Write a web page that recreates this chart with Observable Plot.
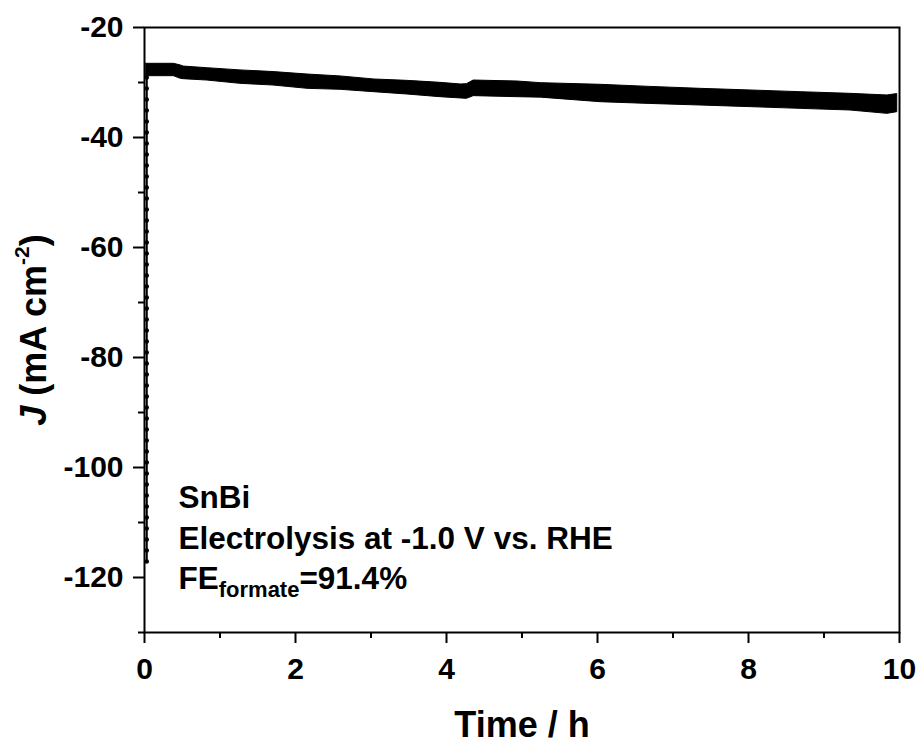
<!DOCTYPE html>
<html><head><meta charset="utf-8">
<script src="https://cdn.jsdelivr.net/npm/d3@7"></script>
<script src="https://cdn.jsdelivr.net/npm/@observablehq/plot@0.6"></script>
<style>body{margin:0;background:#fff}</style>
</head><body><div id="chart"></div>
<script>
// Time (h) and the upper / lower edges of the noisy current band (mA cm-2)
const timeH  = [0.02, 0.39, 0.48, 0.52, 0.83, 1.27, 1.71, 2.16, 2.60, 3.04, 3.48, 3.92, 4.19, 4.27, 4.36, 4.94, 5.25, 6.04, 6.70, 7.36, 8.03, 8.69, 9.35, 9.84, 9.97];
const jUpper = [-26.6, -26.6, -26.9, -27.1, -27.4, -27.8, -28.1, -28.55, -28.9, -29.45, -29.7, -30.06, -30.36, -30.3, -29.64, -29.82, -30.12, -30.42, -30.8, -31.15, -31.45, -31.76, -32.06, -32.36, -32.1];
const jLower = [-28.85, -28.85, -29.33, -29.4, -29.64, -30.24, -30.55, -31.15, -31.33, -31.76, -32.18, -32.67, -32.9, -32.97, -32.48, -32.67, -32.75, -33.58, -33.9, -34.18, -34.48, -34.79, -35.09, -35.7, -35.4];
// initial transient at the start of electrolysis
const spikeT = [0.03, 0.03];
const spikeJ = [-117.1, -27.5];
// ticks
const xMajor = [0, 2, 4, 6, 8, 10];
const xMinor = [1, 3, 5, 7, 9];
const yMajor = [-120, -100, -80, -60, -40, -20];
const yMinor = [-130, -110, -90, -70, -50, -30];
// texts
const xTitle = "Time / h";
const yTitle = "J (mA cm-2)";
const annoSample = "SnBi";
const annoCond = "Electrolysis at -1.0 V vs. RHE";
const annoFE = "FE";

const band = timeH.map((t, i) => ({t, hi: jUpper[i], lo: jLower[i]}));
const spike = spikeT.map((t, i) => ({t, j: spikeJ[i]}));
const font = "'Liberation Sans', Arial, Helvetica, sans-serif";
const fmt = d => String(d);

const chart = Plot.plot({
  width: 920, height: 744,
  marginLeft: 144, marginRight: 21, marginTop: 27, marginBottom: 112,
  style: {fontFamily: font, background: "white", color: "black"},
  x: {domain: [0, 10]},
  y: {domain: [-130, -20]},
  marks: [
    Plot.areaY(band, {x: "t", y1: "lo", y2: "hi", fill: "black", stroke: "black", strokeWidth: 1}),
    Plot.line(spike, {x: "t", y: "j", stroke: "black", strokeWidth: 2}),
    Plot.line(spike, {x: "t", y: "j", stroke: "black", strokeWidth: 4.5, strokeLinecap: "round", strokeDasharray: "0,11"}),
    Plot.frame({stroke: "black", strokeWidth: 2}),
    Plot.axisX({ticks: xMajor, tickSize: 11, tickPadding: 14, tickFormat: fmt, fontSize: 30, fontWeight: "bold", strokeWidth: 2, label: null}),
    Plot.axisX({ticks: xMinor, tickSize: 6, tickFormat: () => "", strokeWidth: 2, label: null}),
    Plot.axisY({ticks: yMajor, tickSize: 11, tickPadding: 10, tickFormat: fmt, fontSize: 30, fontWeight: "bold", strokeWidth: 2, label: null}),
    Plot.axisY({ticks: yMinor, tickSize: 6, tickFormat: () => "", strokeWidth: 2, label: null}),
    Plot.text([xTitle], {frameAnchor: "bottom", dy: 104, text: d => d, fontSize: 36, fontWeight: "bold", lineAnchor: "bottom", textAnchor: "middle", fill: "black"}),
    Plot.text([yTitle], {frameAnchor: "left", dx: -99, rotate: -90, text: d => d, fontSize: 36, fontWeight: "bold", lineAnchor: "bottom", textAnchor: "middle", fill: "black"}),
    Plot.text([annoSample], {x: 0.45, y: -107.3, text: d => d, textAnchor: "start", lineAnchor: "bottom", fontSize: 31.5, fontWeight: "bold", fill: "black"}),
    Plot.text([annoCond], {x: 0.45, y: -114.75, text: d => d, textAnchor: "start", lineAnchor: "bottom", fontSize: 31.5, fontWeight: "bold", fill: "black"}),
    Plot.text([annoFE], {x: 0.45, y: -122.0, text: d => d, textAnchor: "start", lineAnchor: "bottom", fontSize: 31.5, fontWeight: "bold", fill: "black"})
  ]
});
document.getElementById("chart").appendChild(chart);

const svg = d3.select(chart.tagName.toLowerCase() === "svg" ? chart : chart.querySelector("svg"));
svg.selectAll("text").each(function () {
  const t = d3.select(this);
  const s = t.text();
  if (s === annoFE) {
    t.append("tspan").attr("font-size", 22).attr("dy", 8).text("formate");
    t.append("tspan").attr("dy", -8).text("=91.4%");
  } else if (s === yTitle) {
    t.text("");
    t.append("tspan").attr("font-style", "italic").text("J");
    t.append("tspan").text(" (mA cm");
    t.append("tspan").attr("font-size", 21).attr("dy", -17).text("-2");
    t.append("tspan").attr("dy", 17).text(")");
  }
});
</script>
</body></html>
